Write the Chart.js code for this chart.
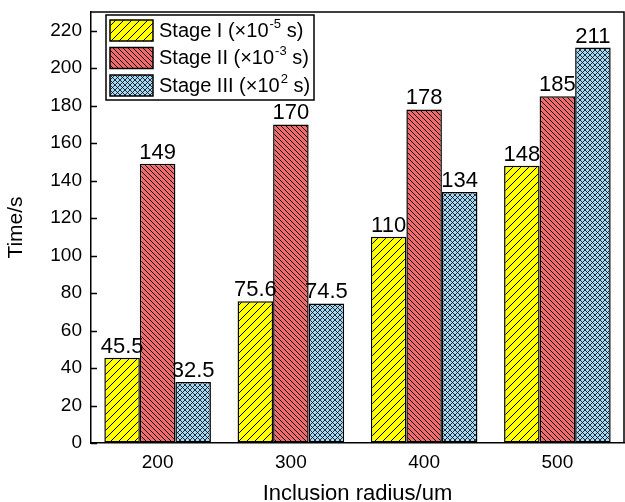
<!DOCTYPE html>
<html lang="en">
<head>
  <meta charset="UTF-8" />
  <title>Inclusion radius vs time</title>
  <style>
    body {
      margin: 0;
      background-color: white;
    }
    #chart {
      display: block;
    }
  </style>
</head>
<body>
  <canvas id="chart" width="625" height="502"></canvas>

  <script src="https://cdn.jsdelivr.net/npm/chart.js"></script>
  <script>
    // data
    const categories = ['200', '300', '400', '500'];
    const stage1 = [45.5, 75.6, 110, 148];
    const stage2 = [149, 170, 178, 185];
    const stage3 = [32.5, 74.5, 134, 211];
    const labelBase = ['Stage I (×10', 'Stage II (×10', 'Stage III (×10'];
    const labelExp = ['-5', '-3', '2'];
    const labelTail = ' s)';
    const yMin = 0, yMax = 230, yStep = 10;

    const FONT = "'Liberation Sans', Arial, sans-serif";

    function makePattern(size, bg, lw, draw) {
      const c = document.createElement('canvas');
      c.width = size;
      c.height = size;
      const g = c.getContext('2d');
      g.fillStyle = bg;
      g.fillRect(0, 0, size, size);
      g.strokeStyle = '#000';
      g.lineWidth = lw;
      draw(g, size);
      return g.createPattern(c, 'repeat');
    }

    const ctx = document.getElementById('chart').getContext('2d');

    // "/" hatch, yellow
    const yellowHatch = makePattern(8, '#ffff00', 1, (g, s) => {
      g.beginPath();
      g.moveTo(-1, s + 1); g.lineTo(s + 1, -1);
      g.moveTo(-1, 1); g.lineTo(1, -1);
      g.moveTo(s - 1, s + 1); g.lineTo(s + 1, s - 1);
      g.stroke();
    });
    // "\" dense hatch, red
    const redHatch = makePattern(5, '#f46a6a', 1, (g, s) => {
      g.beginPath();
      g.moveTo(-1, -1); g.lineTo(s + 1, s + 1);
      g.moveTo(s - 1, -1); g.lineTo(s + 1, 1);
      g.moveTo(-1, s - 1); g.lineTo(1, s + 1);
      g.stroke();
    });
    // crosshatch, light blue
    const blueHatch = makePattern(5, '#a3d8f7', 0.8, (g, s) => {
      g.beginPath();
      g.moveTo(-1, -1); g.lineTo(s + 1, s + 1);
      g.moveTo(-1, s + 1); g.lineTo(s + 1, -1);
      g.stroke();
    });

    const fills = [yellowHatch, redHatch, blueHatch];

    // inward y ticks, top/right frame
    const framePlugin = {
      id: 'frame',
      afterDraw(chart) {
        const { ctx, chartArea } = chart;
        const y = chart.scales.y;
        ctx.save();
        ctx.strokeStyle = '#000';
        ctx.lineWidth = 1.5;
        ctx.beginPath();
        y.ticks.forEach(t => {
          const py = Math.round(y.getPixelForValue(t.value)) + 0.5;
          ctx.moveTo(chartArea.left, py);
          ctx.lineTo(chartArea.left + 6, py);
        });
        ctx.moveTo(chartArea.left, chartArea.top);
        ctx.lineTo(chartArea.right, chartArea.top);
        ctx.lineTo(chartArea.right, chartArea.bottom);
        ctx.stroke();
        ctx.restore();
      }
    };

    // values above bars
    const valuePlugin = {
      id: 'values',
      afterDatasetsDraw(chart) {
        const { ctx } = chart;
        ctx.save();
        ctx.fillStyle = '#000';
        ctx.font = '22px ' + FONT;
        ctx.textAlign = 'center';
        ctx.textBaseline = 'alphabetic';
        chart.data.datasets.forEach((ds, i) => {
          chart.getDatasetMeta(i).data.forEach((bar, j) => {
            ctx.fillText(String(ds.data[j]), bar.x, bar.y - 5);
          });
        });
        ctx.restore();
      }
    };

    // boxed legend with superscript exponents
    const legendPlugin = {
      id: 'boxLegend',
      afterDraw(chart) {
        const { ctx } = chart;
        const bx = 106, by = 15, bw = 208, bh = 85;
        ctx.save();
        ctx.fillStyle = '#fff';
        ctx.fillRect(bx, by, bw, bh);
        ctx.strokeStyle = '#000';
        ctx.lineWidth = 1.5;
        ctx.strokeRect(bx, by, bw, bh);
        chart.data.datasets.forEach((ds, i) => {
          const top = 20 + i * 27.5;
          ctx.fillStyle = ds.backgroundColor;
          ctx.fillRect(110, top, 43, 21);
          ctx.lineWidth = 1.5;
          ctx.strokeRect(110, top, 43, 21);
          const cy = top + 11;
          ctx.fillStyle = '#000';
          ctx.textBaseline = 'middle';
          ctx.textAlign = 'left';
          ctx.font = '20px ' + FONT;
          let x = 159;
          ctx.fillText(labelBase[i], x, cy);
          x += ctx.measureText(labelBase[i]).width + 1;
          ctx.font = '13px ' + FONT;
          ctx.fillText(labelExp[i], x, cy - 7);
          x += ctx.measureText(labelExp[i]).width;
          ctx.font = '20px ' + FONT;
          ctx.fillText(labelTail, x, cy);
        });
        ctx.restore();
      }
    };

    new Chart(ctx, {
      type: 'bar',
      data: {
        labels: categories,
        datasets: [stage1, stage2, stage3].map((d, i) => ({
          label: labelBase[i] + labelExp[i] + labelTail,
          data: d,
          backgroundColor: fills[i],
          borderColor: '#000',
          borderWidth: 1.5,
          borderSkipped: false,
          categoryPercentage: 0.8,
          barPercentage: 1.0
        }))
      },
      options: {
        responsive: false,
        animation: false,
        devicePixelRatio: 1,
        layout: { padding: { top: 12, right: 1, left: 0, bottom: 0 } },
        plugins: {
          legend: { display: false },
          tooltip: { enabled: false }
        },
        scales: {
          x: {
            grid: { display: true, drawOnChartArea: false, drawTicks: false },
            border: { display: true, color: '#000', width: 1.5 },
            ticks: { color: '#000', font: { family: FONT, size: 19 }, padding: 8 },
            title: {
              display: true,
              text: 'Inclusion radius/um',
              color: '#000',
              font: { family: FONT, size: 22 },
              padding: { top: 0, bottom: -5 }
            },
            afterFit(scale) {
              scale.height = 59;
              scale.paddingLeft = 0;
              scale.paddingRight = 0;
            }
          },
          y: {
            min: yMin,
            max: yMax,
            grid: { display: true, drawOnChartArea: false, drawTicks: false },
            border: { display: true, color: '#000', width: 1.5 },
            ticks: {
              stepSize: yStep,
              color: '#000',
              font: { family: FONT, size: 19 },
              padding: 9,
              callback: v => (v % 20 === 0 && v <= 220 ? v : '')
            },
            title: {
              display: true,
              text: 'Time/s',
              color: '#000',
              font: { family: FONT, size: 21 },
              padding: { top: 4, bottom: 0 }
            },
            afterFit(scale) {
              scale.width = 91;
              scale.paddingTop = 0;
              scale.paddingBottom = 0;
            }
          }
        }
      },
      plugins: [framePlugin, valuePlugin, legendPlugin]
    });
  </script>
</body>
</html>
